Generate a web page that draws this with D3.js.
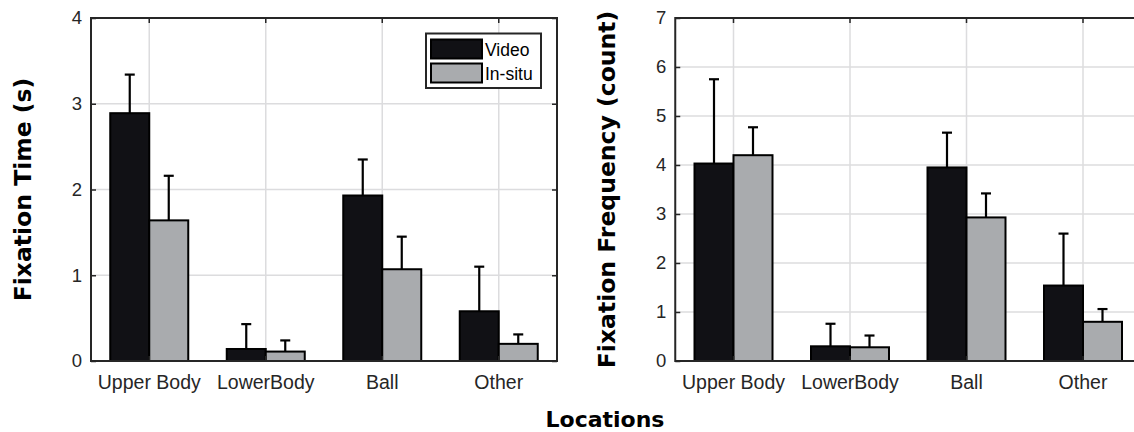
<!DOCTYPE html>
<html>
<head>
<meta charset="utf-8">
<script src="https://cdn.jsdelivr.net/npm/d3@7"></script>
<style>
  html, body { margin: 0; padding: 0; background: #fff; }
  svg { display: block; }
</style>
</head>
<body>
<svg id="chart" width="1134" height="432"></svg>
<script>
// Gaze fixation data by body location
const categories = ["Upper Body", "LowerBody", "Ball", "Other"];
const seriesNames = ["Video", "In-situ"];

// Fixation time (s): means and standard deviations
const timeVideo = [2.89, 0.14, 1.93, 0.58];
const timeVideoSD = [0.45, 0.29, 0.42, 0.52];
const timeInsitu = [1.64, 0.11, 1.07, 0.20];
const timeInsituSD = [0.52, 0.13, 0.38, 0.11];
const timeTicks = [0, 1, 2, 3, 4];

// Fixation frequency (count): means and standard deviations
const freqVideo = [4.03, 0.30, 3.95, 1.54];
const freqVideoSD = [1.72, 0.46, 0.71, 1.06];
const freqInsitu = [4.20, 0.28, 2.93, 0.80];
const freqInsituSD = [0.57, 0.24, 0.49, 0.26];
const freqTicks = [0, 1, 2, 3, 4, 5, 6, 7];

const fills = ["#111115", "#a9abae"];
const axisColor = "#262626";
const gridColor = "#dcdcde";
const tickFont = "'Liberation Sans', Arial, sans-serif";
const titleFont = "'DejaVu Sans', Verdana, sans-serif";

const svg = d3.select("#chart");

function panel(opts) {
  const { left, right, top, bottom, yMax, ticks, series, sds, title, titleX, legend } = opts;
  const g = svg.append("g");

  const x = d3.scaleBand().domain(categories).range([left, right]).padding(0);
  const sub = d3.scaleBand().domain(seriesNames).range([-39, 39]).padding(0);
  const y = d3.scaleLinear().domain([0, yMax]).range([bottom, top]);

  // grid
  g.append("g").selectAll("line.hg").data(ticks.slice(1, -1)).join("line")
    .attr("x1", left).attr("x2", right)
    .attr("y1", d => y(d)).attr("y2", d => y(d))
    .attr("stroke", gridColor).attr("stroke-width", 1.5);
  g.append("g").selectAll("line.vg").data(categories).join("line")
    .attr("x1", d => x(d) + x.bandwidth() / 2).attr("x2", d => x(d) + x.bandwidth() / 2)
    .attr("y1", top).attr("y2", bottom)
    .attr("stroke", gridColor).attr("stroke-width", 1.5);

  // bars
  const rows = [];
  categories.forEach((c, i) => {
    seriesNames.forEach((s, j) => {
      rows.push({ c, s, j, v: series[j][i], sd: sds[j][i] });
    });
  });
  const cx = d => x(d.c) + x.bandwidth() / 2 + sub(d.s);
  g.append("g").selectAll("rect").data(rows).join("rect")
    .attr("x", cx)
    .attr("y", d => y(d.v))
    .attr("width", sub.bandwidth())
    .attr("height", d => y(0) - y(d.v))
    .attr("fill", d => fills[d.j])
    .attr("stroke", "#000").attr("stroke-width", 2);

  // error bars (upper whisker)
  const eb = g.append("g").attr("stroke", "#000").attr("stroke-width", 2.2);
  eb.selectAll("line.stem").data(rows).join("line")
    .attr("x1", d => cx(d) + sub.bandwidth() / 2).attr("x2", d => cx(d) + sub.bandwidth() / 2)
    .attr("y1", d => y(d.v)).attr("y2", d => y(d.v + d.sd));
  eb.selectAll("line.cap").data(rows).join("line")
    .attr("x1", d => cx(d) + sub.bandwidth() / 2 - 5).attr("x2", d => cx(d) + sub.bandwidth() / 2 + 5)
    .attr("y1", d => y(d.v + d.sd)).attr("y2", d => y(d.v + d.sd));

  // box
  g.append("rect")
    .attr("x", left).attr("y", top)
    .attr("width", right - left).attr("height", bottom - top)
    .attr("fill", "none").attr("stroke", axisColor).attr("stroke-width", 2);

  // axes
  const xAxis = d3.axisBottom(x).tickSize(-5).tickPadding(14);
  const xg = g.append("g").attr("transform", `translate(0,${bottom})`).call(xAxis);
  const xTop = g.append("g").attr("transform", `translate(0,${top})`).call(d3.axisTop(x).tickSize(-5).tickFormat(""));
  const yAxis = d3.axisLeft(y).tickValues(ticks).tickFormat(d3.format("d")).tickSize(-5).tickPadding(9);
  const yg = g.append("g").attr("transform", `translate(${left},0)`).call(yAxis);
  const yRight = g.append("g").attr("transform", `translate(${right},0)`).call(d3.axisRight(y).tickValues(ticks).tickSize(-5).tickFormat(""));
  [xg, xTop, yg, yRight].forEach(a => {
    a.select(".domain").remove();
    a.selectAll(".tick line").attr("stroke", axisColor).attr("stroke-width", 1.5);
  });
  xg.selectAll("text").attr("font-family", tickFont).attr("font-size", 19.5).attr("fill", axisColor);
  yg.selectAll("text").attr("font-family", tickFont).attr("font-size", 18.5).attr("fill", axisColor);

  // y title
  g.append("text")
    .attr("transform", `translate(${titleX},${(top + bottom) / 2}) rotate(-90)`)
    .attr("text-anchor", "middle")
    .attr("dominant-baseline", "central")
    .attr("font-family", titleFont).attr("font-weight", "bold").attr("font-size", 23.5)
    .attr("fill", "#000")
    .text(title);

  if (legend) {
    const lg = g.append("g");
    lg.append("rect").attr("x", 426).attr("y", 33.5).attr("width", 115).attr("height", 54.5)
      .attr("fill", "#fff").attr("stroke", axisColor).attr("stroke-width", 2);
    seriesNames.forEach((s, j) => {
      const yy = 39.5 + j * 24;
      lg.append("rect").attr("x", 431).attr("y", yy).attr("width", 51).attr("height", 19)
        .attr("fill", fills[j]).attr("stroke", "#000").attr("stroke-width", 2);
      lg.append("text").attr("x", 485).attr("y", yy + 16)
        .attr("font-family", tickFont).attr("font-size", 17.5).attr("fill", "#000")
        .text(s);
    });
  }
}

panel({
  left: 91, right: 557, top: 18, bottom: 361, yMax: 4, ticks: timeTicks,
  series: [timeVideo, timeInsitu], sds: [timeVideoSD, timeInsituSD],
  title: "Fixation Time (s)", titleX: 23, legend: true
});

panel({
  left: 675.25, right: 1141.25, top: 18, bottom: 361, yMax: 7, ticks: freqTicks,
  series: [freqVideo, freqInsitu], sds: [freqVideoSD, freqInsituSD],
  title: "Fixation Frequency (count)", titleX: 607, legend: false
});

// shared x title
svg.append("text")
  .attr("x", 605).attr("y", 427)
  .attr("text-anchor", "middle")
  .attr("font-family", titleFont).attr("font-weight", "bold").attr("font-size", 22)
  .attr("fill", "#000")
  .text("Locations");
</script>
</body>
</html>
